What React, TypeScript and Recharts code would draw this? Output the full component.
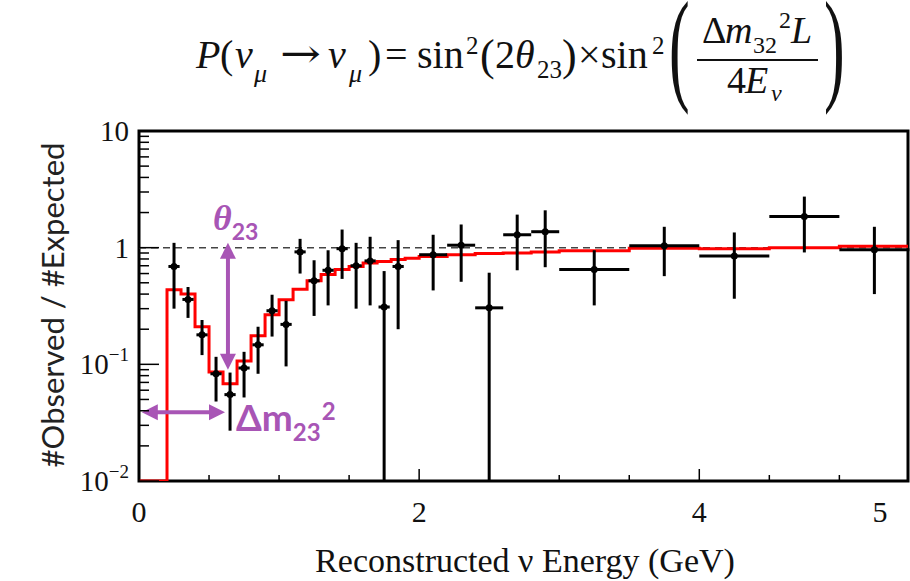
import React from "react";
import {
  ComposedChart,
  Line,
  Scatter,
  ErrorBar,
  XAxis,
  YAxis,
  ReferenceLine,
  ReferenceArea,
} from "recharts";

// Measured ratio per energy bin: centre, value, lower / upper error limit, half bin width
const energy = [
  0.25, 0.35, 0.45, 0.55, 0.65, 0.75, 0.85, 0.95, 1.05, 1.15, 1.25, 1.35, 1.45,
  1.55, 1.65, 1.75, 1.85, 2.1, 2.3, 2.5, 2.7, 2.9, 3.25, 3.75, 4.25, 4.75, 5.25,
];
const ratio = [
  0.69, 0.36, 0.179, 0.083, 0.055, 0.093, 0.147, 0.288, 0.22, 0.92, 0.52, 0.64,
  0.98, 0.7, 0.77, 0.31, 0.69, 0.87, 1.05, 0.305, 1.29, 1.37, 0.65, 1.04, 0.85,
  1.85, 0.96,
];
const ratioLow = [
  0.3, 0.25, 0.12, 0.048, 0.027, 0.052, 0.083, 0.173, 0.096, 0.6, 0.26, 0.32,
  0.54, 0.3, 0.32, 0.01, 0.2, 0.43, 0.51, 0.01, 0.64, 0.68, 0.32, 0.57, 0.365,
  0.91, 0.4,
];
const ratioHigh = [
  1.1, 0.46, 0.24, 0.116, 0.085, 0.128, 0.21, 0.395, 0.35, 1.19, 0.78, 0.95,
  1.43, 1.1, 1.24, 0.63, 1.16, 1.29, 1.58, 0.61, 1.92, 2.09, 0.95, 1.51, 1.35,
  2.74, 1.51,
];
const binHalfWidth = [
  0.04, 0.04, 0.04, 0.04, 0.04, 0.04, 0.04, 0.04, 0.04, 0.04, 0.04, 0.04, 0.04,
  0.04, 0.04, 0.04, 0.04, 0.1, 0.1, 0.1, 0.1, 0.1, 0.25, 0.25, 0.25, 0.25, 0.25,
];

// Best-fit oscillation prediction, histogram bin edges and contents
const modelEdges = [
  0, 0.2, 0.3, 0.4, 0.5, 0.6, 0.7, 0.8, 0.9, 1.0, 1.1, 1.2, 1.3, 1.4, 1.5, 1.6,
  1.7, 1.8, 1.9, 2.0, 2.2, 2.4, 2.6, 2.8, 3.0, 3.5, 4.0, 4.5, 5.0, 5.5,
];
const modelValues = [
  0.01, 0.436, 0.4, 0.21, 0.086, 0.068, 0.107, 0.176, 0.266, 0.358, 0.44, 0.52,
  0.59, 0.65, 0.69, 0.74, 0.76, 0.79, 0.81, 0.84, 0.87, 0.89, 0.9, 0.92, 0.94,
  0.99, 0.98, 1.0, 1.03,
];

// Axis ticks
const xMinorTicks = [0, 0.5, 1, 1.5, 2, 2.5, 3, 3.5, 4, 4.5, 5];
const xMajorTicks = [0, 2, 4];
const xTickLabels = [
  { at: 0, text: "0" },
  { at: 2, text: "2" },
  { at: 4, text: "4" },
  { at: 5.29, text: "5" },
];
const yDecades = [0.01, 0.1, 1];
const yMinorFactors = [2, 3, 4, 5, 6, 7, 8, 9];
const yMajorTicks = [0.01, 0.1, 1, 10];
const yTickLabels = [
  { at: 0.01, base: "10", exp: "−2" },
  { at: 0.1, base: "10", exp: "−1" },
  { at: 1, base: "1", exp: "" },
  { at: 10, base: "10", exp: "" },
];

const X_MAX = 5.49;
const PURPLE = "#a855b5";
const SERIF = "'Liberation Serif', 'Times New Roman', serif";
const SANS = "Lato, 'Open Sans', sans-serif";

const points = energy.map((x, i) => ({
  x,
  y: ratio[i],
  yErr: [ratio[i] - ratioLow[i], ratioHigh[i] - ratio[i]],
  xErr: binHalfWidth[i],
}));

const modelData = modelEdges.map((x, i) => ({
  x,
  model: modelValues[Math.min(i, modelValues.length - 1)],
}));

const xTickValues = [
  ...xMinorTicks,
  ...xTickLabels.map((l) => l.at).filter((v) => !xMinorTicks.includes(v)),
];
const yTickValues = [
  ...yMajorTicks,
  ...yDecades.flatMap((d) => yMinorFactors.map((f) => +(d * f).toPrecision(3))),
];

function renderXTick(props: any) {
  const { x, y, payload } = props;
  const v = payload.value;
  const label = xTickLabels.find((l) => l.at === v);
  const isTick = xMinorTicks.includes(v);
  const len = xMajorTicks.includes(v) ? 12 : 6;
  return (
    <g>
      {isTick && (
        <line x1={x} x2={x} y1={y} y2={y - len} stroke="#000" strokeWidth={1.5} />
      )}
      {label && (
        <text
          x={x}
          y={y + 41}
          textAnchor="middle"
          fontFamily={SERIF}
          fontSize={30}
          fill="#111"
        >
          {label.text}
        </text>
      )}
    </g>
  );
}

function renderYTick(props: any) {
  const { x, y, payload } = props;
  const v = payload.value;
  const major = yMajorTicks.includes(v);
  const label = yTickLabels.find((l) => l.at === v);
  return (
    <g>
      <line x1={x} x2={x + (major ? 20 : 10)} y1={y} y2={y} stroke="#000" strokeWidth={1.5} />
      {label && (
        <text
          x={x - 10}
          y={y + 10}
          textAnchor="end"
          fontFamily={SERIF}
          fontSize={29}
          fill="#111"
        >
          {label.base}
          {label.exp && (
            <tspan fontSize={19} dy={-13}>
              {label.exp}
            </tspan>
          )}
        </text>
      )}
    </g>
  );
}

function renderPoint(props: any) {
  const { cx, cy } = props;
  return <circle cx={cx} cy={cy} r={3.5} fill="#000" />;
}

// Double-headed arrow along a reference segment
function arrowShape(label: "theta" | "dm") {
  return (props: any) => {
    const { x1, y1, x2, y2 } = props;
    const dx = x2 - x1;
    const dy = y2 - y1;
    const len = Math.hypot(dx, dy) || 1;
    const ux = dx / len;
    const uy = dy / len;
    const head = 16;
    const half = 8;
    const tri = (tx: number, ty: number, sx: number, sy: number) => {
      const bx = tx - sx * head;
      const by = ty - sy * head;
      return `${tx},${ty} ${bx - sy * half},${by + sx * half} ${bx + sy * half},${by - sx * half}`;
    };
    return (
      <g>
        <line
          x1={x1 + ux * 8}
          y1={y1 + uy * 8}
          x2={x2 - ux * 8}
          y2={y2 - uy * 8}
          stroke={PURPLE}
          strokeWidth={4}
        />
        <polygon points={tri(x1, y1, -ux, -uy)} fill={PURPLE} />
        <polygon points={tri(x2, y2, ux, uy)} fill={PURPLE} />
        {label === "theta" && (
          <text x={x1 - 15} y={y1 - 13} fill={PURPLE} fontWeight="bold">
            <tspan fontFamily={SERIF} fontStyle="italic" fontSize={36}>
              θ
            </tspan>
            <tspan fontFamily={SANS} fontSize={23} dy={10}>
              23
            </tspan>
          </text>
        )}
        {label === "dm" && (
          <text x={x2 + 11} y={y2 + 19} fill={PURPLE} fontWeight="bold" fontFamily={SANS}>
            <tspan fontSize={37}>Δm</tspan>
            <tspan fontSize={24} dy={10}>
              23
            </tspan>
            <tspan fontSize={24} dy={-21} dx={1}>
              2
            </tspan>
          </text>
        )}
      </g>
    );
  };
}

function Formula() {
  const it = { fontStyle: "italic" as const };
  return (
    <g fontFamily={SERIF} fill="#111">
      <text x={196} y={68} fontSize={40} {...it}>P</text>
      <text x={220} y={68} fontSize={40}>(</text>
      <text x={235} y={68} fontSize={40} {...it}>ν</text>
      <text x={254} y={82} fontSize={26} {...it}>μ</text>
      <text
        x={280}
        y={67}
        fontSize={40}
        fontFamily="'DejaVu Serif', serif"
        textLength={41}
        lengthAdjust="spacingAndGlyphs"
      >
        →
      </text>
      <text x={328} y={68} fontSize={40} {...it}>ν</text>
      <text x={349} y={82} fontSize={26} {...it}>μ</text>
      <text x={368} y={68} fontSize={40}>)</text>
      <text x={385} y={68} fontSize={40}>=</text>
      <text x={417} y={68} fontSize={40}>sin</text>
      <text x={466} y={54} fontSize={25}>2</text>
      <text x={480} y={70} fontSize={44}>(</text>
      <text x={495} y={68} fontSize={40}>2</text>
      <text x={515} y={68} fontSize={40} {...it}>θ</text>
      <text x={537} y={78} fontSize={25}>23</text>
      <text x={562} y={70} fontSize={44}>)</text>
      <text x={578} y={68} fontSize={40}>×</text>
      <text x={601} y={68} fontSize={40}>sin</text>
      <text x={652} y={54} fontSize={25}>2</text>
      <text transform="translate(669,88) scale(0.5,1)" fontSize={124}>(</text>
      <text x={702} y={43} fontSize={38}>Δ</text>
      <text x={725} y={43} fontSize={38} {...it}>m</text>
      <text x={753} y={53} fontSize={24}>32</text>
      <text x={779} y={28} fontSize={24}>2</text>
      <text x={791} y={43} fontSize={38} {...it}>L</text>
      <line x1={697} x2={818} y1={60} y2={60} stroke="#111" strokeWidth={2} />
      <text x={727} y={93} fontSize={38}>4</text>
      <text x={745} y={93} fontSize={38} {...it}>E</text>
      <text x={771} y={101} fontSize={24} {...it}>ν</text>
      <text transform="translate(824,88) scale(0.5,1)" fontSize={124}>)</text>
    </g>
  );
}

export default function App() {
  return (
    <div
      style={{
        position: "absolute",
        left: 0,
        top: 0,
        width: 910,
        height: 581,
        background: "#fff",
        overflow: "hidden",
      }}
    >
      <ComposedChart
        width={910}
        height={581}
        margin={{ top: 131, right: 2, bottom: 0, left: 0 }}
      >
        <XAxis
          dataKey="x"
          type="number"
          domain={[0, X_MAX]}
          allowDataOverflow
          ticks={xTickValues}
          interval={0}
          tickSize={0}
          tickMargin={0}
          axisLine={false}
          tickLine={false}
          tick={renderXTick}
          height={100}
        />
        <YAxis
          type="number"
          scale="log"
          domain={[0.01, 10]}
          allowDataOverflow
          ticks={yTickValues}
          interval={0}
          tickSize={0}
          tickMargin={0}
          axisLine={false}
          tickLine={false}
          tick={renderYTick}
          width={139}
        />
        <ReferenceLine y={1} stroke="#444" strokeDasharray="7 5" strokeWidth={1.5} />
        <ReferenceArea
          x1={0}
          x2={X_MAX}
          y1={0.01}
          y2={10}
          fill="none"
          stroke="#000"
          strokeWidth={3}
          fillOpacity={0}
        />
        <Line
          data={modelData}
          dataKey="model"
          type="stepAfter"
          stroke="#ff0000"
          strokeWidth={3}
          dot={false}
          activeDot={false}
          isAnimationActive={false}
        />
        <Scatter
          data={points}
          dataKey="y"
          shape={renderPoint}
          isAnimationActive={false}
        >
          <ErrorBar dataKey="yErr" direction="y" width={0} stroke="#000" strokeWidth={3} />
          <ErrorBar dataKey="xErr" direction="x" width={0} stroke="#000" strokeWidth={3} />
        </Scatter>
        <ReferenceLine
          segment={[
            { x: 0.635, y: 1.1 },
            { x: 0.635, y: 0.09 },
          ]}
          ifOverflow="visible"
          shape={arrowShape("theta")}
        />
        <ReferenceLine
          segment={[
            { x: 0.02, y: 0.0388 },
            { x: 0.614, y: 0.0388 },
          ]}
          ifOverflow="visible"
          shape={arrowShape("dm")}
        />
      </ComposedChart>
      <svg
        width={910}
        height={581}
        style={{ position: "absolute", left: 0, top: 0, pointerEvents: "none" }}
      >
        <Formula />
        <text
          transform="translate(52,305) rotate(-90)"
          textAnchor="middle"
          dominantBaseline="central"
          fontFamily={SANS}
          fontSize={31}
          fill="#222"
        >
          #Observed / #Expected
        </text>
        <text
          x={525}
          y={572}
          textAnchor="middle"
          fontFamily={SERIF}
          fontSize={34}
          fill="#111"
        >
          Reconstructed ν Energy (GeV)
        </text>
      </svg>
    </div>
  );
}
